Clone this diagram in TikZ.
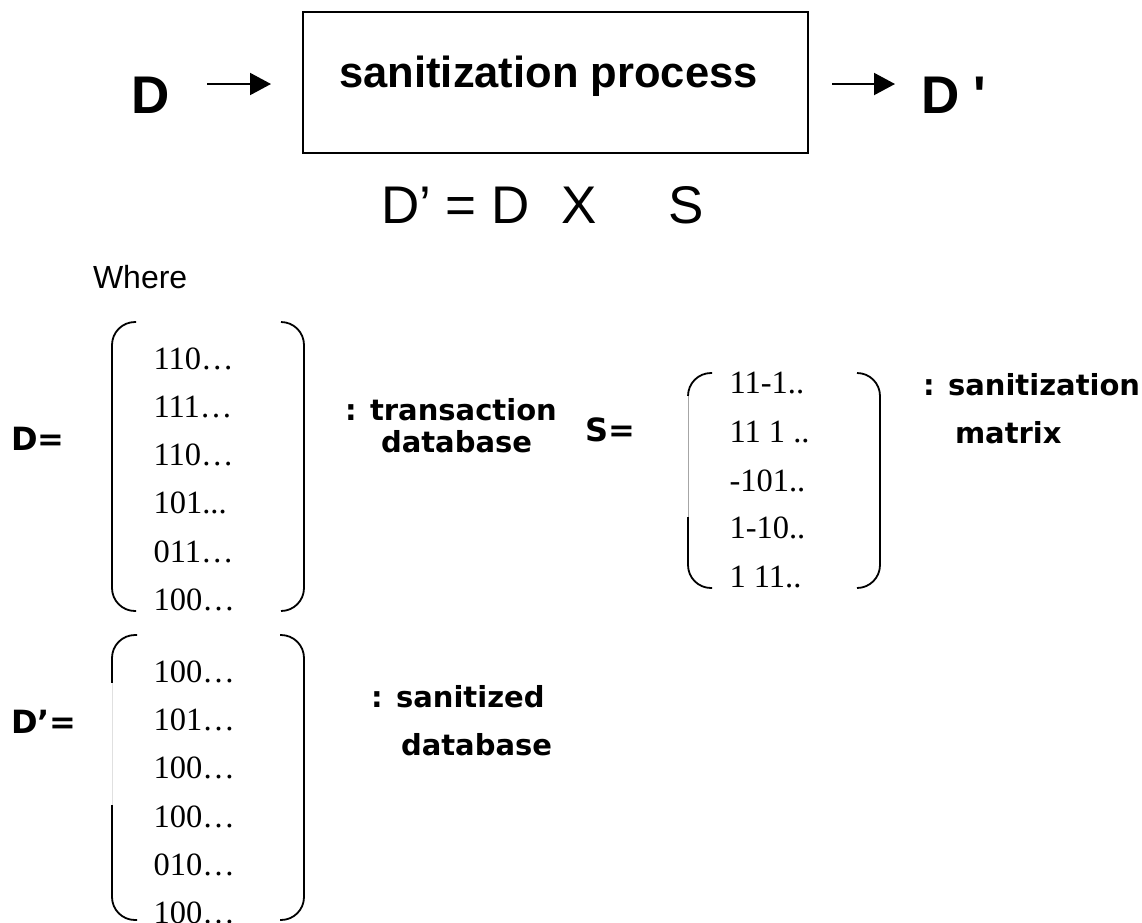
\documentclass[tikz,border=0pt]{standalone}
\usepackage{fontspec}
\setmainfont{Liberation Serif}
\newfontfamily\arialfont{Liberation Sans}
\newfontfamily\labelfont{DejaVu Sans}
\usetikzlibrary{arrows.meta}

\begin{document}
\begin{tikzpicture}[x=1pt,y=-1pt,
  every node/.style={inner sep=0pt, outer sep=0pt, anchor=base west},
  bigsans/.style={font=\arialfont\bfseries\fontsize{53}{53}\selectfont},
  boxtext/.style={font=\arialfont\bfseries\fontsize{43.5}{43.5}\selectfont},
  formula/.style={font=\arialfont\fontsize{53}{53}\selectfont},
  plain/.style={font=\arialfont\fontsize{32}{32}\selectfont},
  entry/.style={font=\fontsize{32.5}{32.5}\selectfont},
  lbl/.style={font=\labelfont\bfseries\fontsize{29}{29}\selectfont},
  eqlbl/.style={font=\labelfont\bfseries\fontsize{32}{32}\selectfont},
  flow/.style={line width=2pt, -{Triangle[length=21pt,width=22pt]}},
  paren/.style={line width=1.8pt, rounded corners=23pt},
]
\useasboundingbox (0,0) rectangle (1142,922);

% ---- process with input and output ----
\node[draw, line width=2pt, minimum width=505pt, minimum height=141pt,
      anchor=center] (proc) at (555.5,82.5) {};
\node[boxtext, anchor=base] (proctext) at (548.5,87) {sanitization process};
\node[bigsans] (din) at (131,113) {D};
\node[bigsans] (dout) at (921,113) {D '};
\coordinate (in1) at (207,84);
\coordinate (in2) at (271,84);
\coordinate (out1) at (832,84);
\coordinate (out2) at (895,84);
\draw[flow] (in1) -- (in2);
\draw[flow] (out1) -- (out2);

% ---- product formula ----
\node[formula] (eq) at (381,223) {D’ = D\hspace{32pt}X\hspace{71.5pt}S};
\node[plain] (where) at (93,288) {Where};

% ---- transaction database D ----
\node[eqlbl] (dlbl) at (11,450) {D=};
\draw[paren] (136,322) -- (112,322) -- (112,611) -- (136,611);
\draw[paren] (281,322) -- (304,322) -- (304,611) -- (281,611);
\node[entry] (d1) at (153.5,369) {110…};
\node[entry] (d2) at (153.5,417) {111…};
\node[entry] (d3) at (153.5,465) {110…};
\node[entry] (d4) at (153.5,513) {101...};
\node[entry] (d5) at (153.5,562) {011…};
\node[entry] (d6) at (153.5,610) {100…};
\node[lbl] (dtxt1) at (345,420) {: transaction};
\node[lbl] (dtxt2) at (381,452) {database};

% ---- sanitization matrix S ----
\node[eqlbl] (slbl) at (585,441) {S=};
\draw[paren] (712,373) -- (688,373) -- (688,588) -- (712,588);
\draw[paren] (857,373) -- (880,373) -- (880,588) -- (857,588);
\draw[white, line width=2.4pt] (688,396) -- (688,517);
\draw[black!35, line width=1pt] (688,396) -- (688,517);
\node[entry] (s1) at (729.5,393) {11-1..};
\node[entry] (s2) at (729.5,442) {11 1 ..};
\node[entry] (s3) at (729.5,491) {-101..};
\node[entry] (s4) at (729.5,538) {1-10..};
\node[entry] (s5) at (729.5,587) {1 11..};
\node[lbl] (stxt1) at (923,395) {: sanitization};
\node[lbl] (stxt2) at (955,443) {matrix};

% ---- sanitized database D' ----
\node[eqlbl] (dplbl) at (11,733) {D’=};
\draw[paren] (137,635) -- (112,635) -- (112,920) -- (137,920);
\draw[paren] (280,635) -- (304,635) -- (304,920) -- (280,920);
\draw[white, line width=2.4pt] (112,683) -- (112,805);
\draw[black!12, line width=1pt] (112,683) -- (112,805);
\node[entry] (p1) at (153.5,682) {100…};
\node[entry] (p2) at (153.5,730) {101…};
\node[entry] (p3) at (153.5,778) {100…};
\node[entry] (p4) at (153.5,827) {100…};
\node[entry] (p5) at (153.5,875) {010…};
\node[entry] (p6) at (153.5,923) {100…};
\node[lbl] (ptxt1) at (371,707) {: sanitized};
\node[lbl] (ptxt2) at (401,755) {database};
\end{tikzpicture}
\end{document}
